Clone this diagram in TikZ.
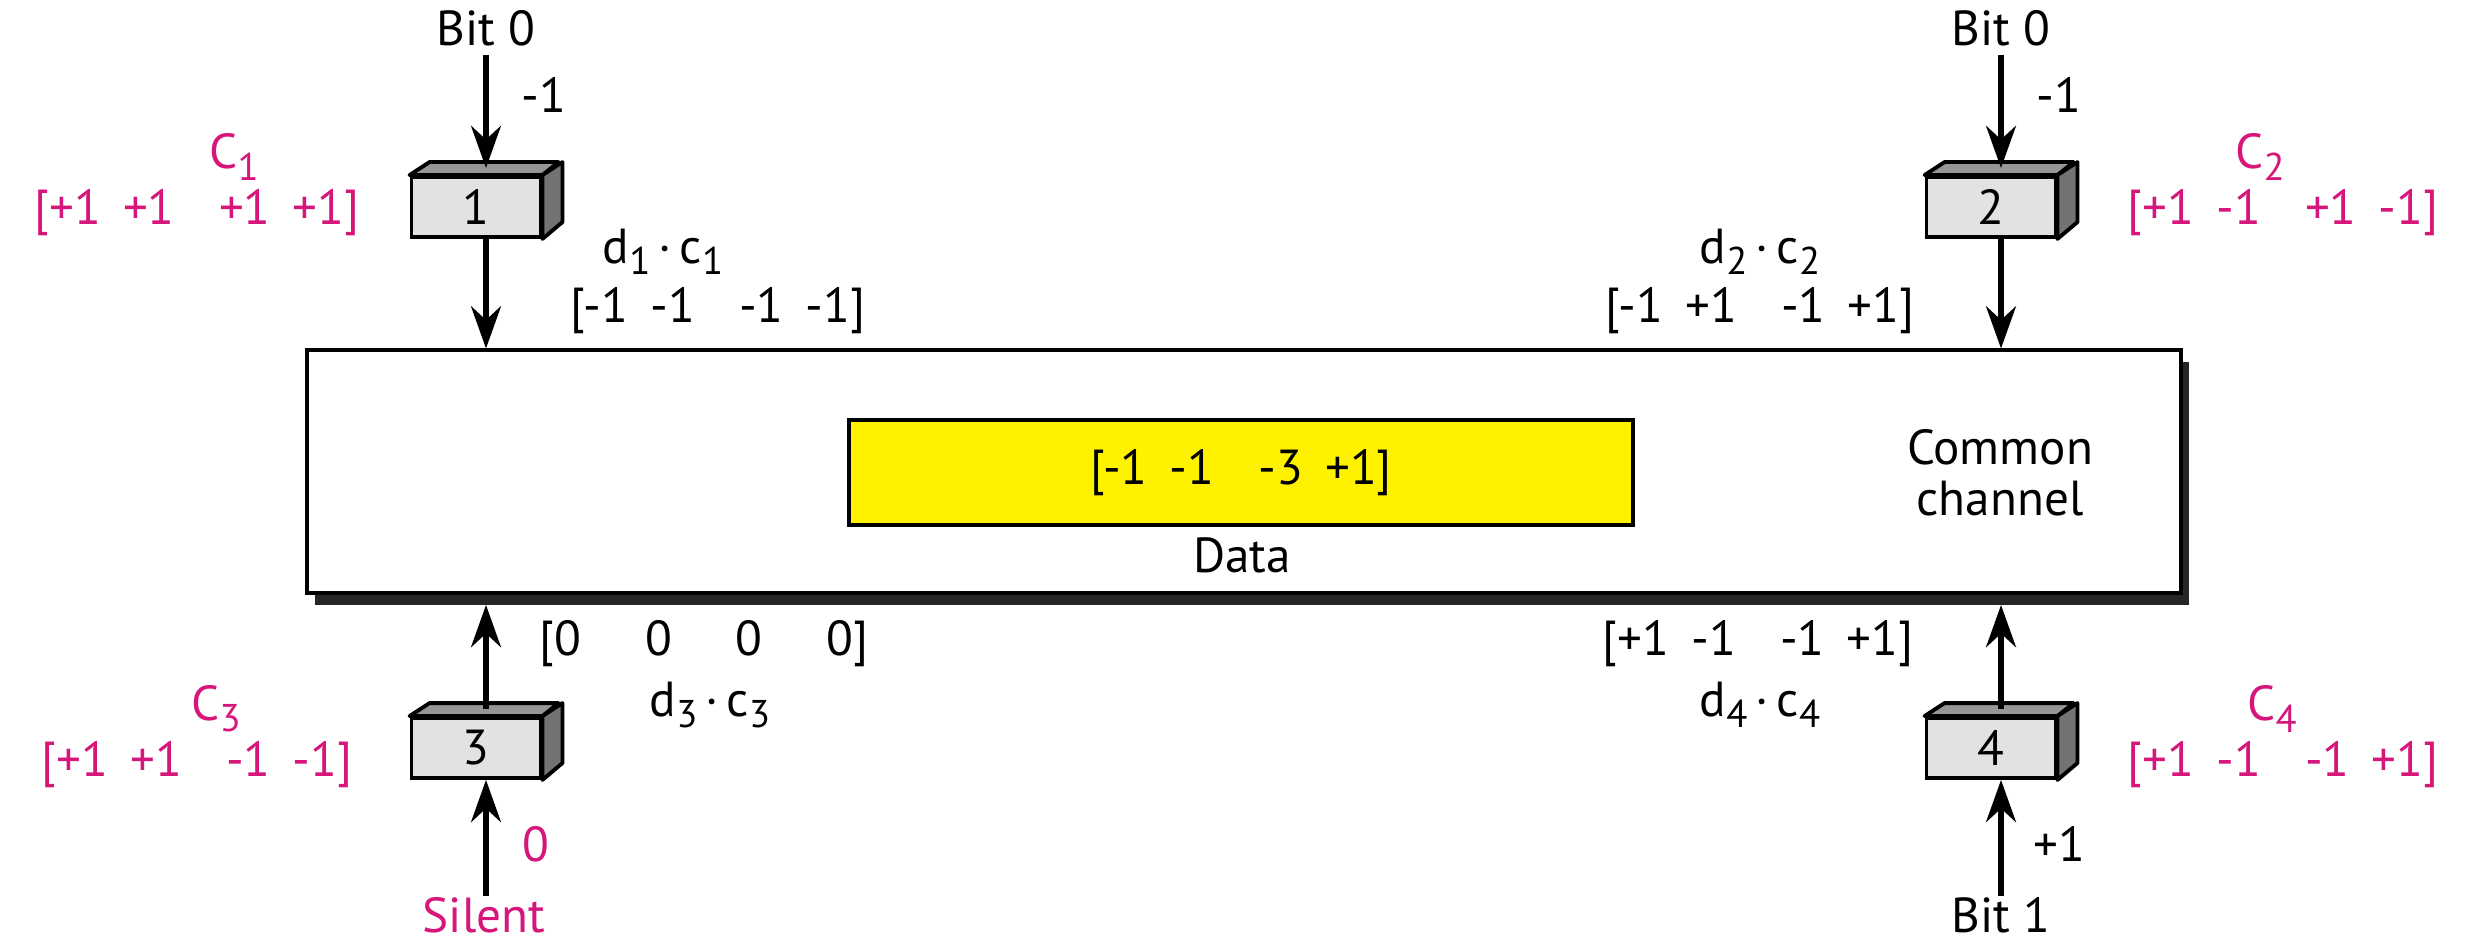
\documentclass[tikz,border=0pt]{standalone}
\usepackage{fontspec}
\setmainfont{PT Sans}
\usetikzlibrary{arrows.meta}
\definecolor{CodeMagenta}{RGB}{214,22,122}
\definecolor{FaceGray}{RGB}{226,226,226}
\definecolor{TopGray}{RGB}{150,150,150}
\definecolor{SideGray}{RGB}{115,115,115}
\newcommand{\lowsub}[1]{\raisebox{-0.45ex}{\fontsize{11}{11}\selectfont #1}}
\newcommand{\chips}[4]{[#1\hspace{0.45em}#2\hspace{0.9em}#3\hspace{0.45em}#4]}

\begin{document}
\begin{tikzpicture}[
        lbl/.style={font=\fontsize{14}{14.5}\selectfont, inner sep=0pt, align=center},
        code/.style={lbl, text=CodeMagenta},
        station/.style={draw, line width=1.1pt, fill=FaceGray, minimum width=1.29cm, minimum height=0.6cm, inner sep=0pt, font=\fontsize{14}{14.5}\selectfont},
        face/.style={draw, line width=1.1pt, line join=round},
        arr/.style={-{Stealth[length=12pt, width=8.5pt]}, line width=1.6pt}
    ]
        \useasboundingbox (0,0) rectangle (24.74,9.46);

        % common channel with its shadow
        \fill[black!85] (3.15,3.41) rectangle (21.89,5.84);
        \node[draw, line width=1pt, fill=white, minimum width=18.74cm, minimum height=2.43cm, anchor=south west, inner sep=0pt] (chan) at (3.05,3.51) {};
        \node[draw, line width=1pt, fill=yellow, minimum width=7.84cm, minimum height=1.05cm, inner sep=0pt, font=\fontsize{14}{14.5}\selectfont] (data) at (12.41,4.735) {\chips{-1}{-1}{-3}{+1}};
        \node[lbl] (datalbl) at (12.42,3.91) {Data};
        \node[lbl] (chanlbl) at (20.0,4.73) {Common\\channel};

        % stations
        \node[station] (s1) at (4.76,7.39) {1};
        \node[station] (s2) at (19.91,7.39) {2};
        \node[station] (s3) at (4.76,1.98) {3};
        \node[station] (s4) at (19.91,1.98) {4};

        \draw[face, fill=TopGray] (s1.north west) -- ++(0.2,0.13) -- ++(1.29,0) -- (s1.north east) -- cycle;
        \draw[face, fill=SideGray] (s1.north east) -- ++(0.2,0.13) -- ++(0,-0.6) -- (s1.south east) -- cycle;
        \draw[face, fill=TopGray] (s2.north west) -- ++(0.2,0.13) -- ++(1.29,0) -- (s2.north east) -- cycle;
        \draw[face, fill=SideGray] (s2.north east) -- ++(0.2,0.13) -- ++(0,-0.6) -- (s2.south east) -- cycle;
        \draw[face, fill=TopGray] (s3.north west) -- ++(0.2,0.13) -- ++(1.29,0) -- (s3.north east) -- cycle;
        \draw[face, fill=SideGray] (s3.north east) -- ++(0.2,0.13) -- ++(0,-0.6) -- (s3.south east) -- cycle;
        \draw[face, fill=TopGray] (s4.north west) -- ++(0.2,0.13) -- ++(1.29,0) -- (s4.north east) -- cycle;
        \draw[face, fill=SideGray] (s4.north east) -- ++(0.2,0.13) -- ++(0,-0.6) -- (s4.south east) -- cycle;

        % senders on top
        \node[lbl] (bit1) at (4.86,9.18) {Bit 0};
        \node[lbl] (bit2) at (20.01,9.18) {Bit 0};
        \coordinate (b1) at (4.86,8.91);
        \coordinate (b2) at (20.01,8.91);
        \draw[arr, shorten >=2pt] (b1) -- (b1 |- s1.north);
        \draw[arr, shorten >=2pt] (b2) -- (b2 |- s2.north);
        \draw[arr] (b1 |- s1.south) -- (b1 |- chan.north);
        \draw[arr] (b2 |- s2.south) -- (b2 |- chan.north);

        \node[lbl] (d1) at (5.44,8.51) {-1};
        \node[lbl] (d2) at (20.59,8.51) {-1};
        \node[code] (c1) at (2.34,7.89) {C\lowsub{1}};
        \node[code] (v1) at (1.97,7.33) {\chips{+1}{+1}{+1}{+1}};
        \node[code] (c2) at (22.60,7.89) {C\lowsub{2}};
        \node[code] (v2) at (22.83,7.33) {\chips{+1}{-1}{+1}{-1}};
        \node[lbl] (p1) at (6.63,6.94) {d\lowsub{1}\,·\,c\lowsub{1}};
        \node[lbl] (r1) at (7.18,6.35) {\chips{-1}{-1}{-1}{-1}};
        \node[lbl] (p2) at (17.60,6.94) {d\lowsub{2}\,·\,c\lowsub{2}};
        \node[lbl] (r2) at (17.60,6.35) {\chips{-1}{+1}{-1}{+1}};

        % senders below
        \coordinate (b3) at (4.86,0.50);
        \coordinate (b4) at (20.01,0.50);
        \draw[arr] (b3) -- (b3 |- s3.south);
        \draw[arr] (b4) -- (b4 |- s4.south);
        \draw[arr, shorten <=2pt, shorten >=0.1cm] (b3 |- s3.north) -- (b3 |- chan.south);
        \draw[arr, shorten <=2pt, shorten >=0.1cm] (b4 |- s4.north) -- (b4 |- chan.south);

        \node[code] (silent) at (4.84,0.31) {Silent};
        \node[lbl] (bit4) at (20.01,0.31) {Bit 1};
        \node[code] (d3) at (5.36,1.02) {0};
        \node[lbl] (d4) at (20.59,1.02) {+1};
        \node[code] (c3) at (2.16,2.37) {C\lowsub{3}};
        \node[code] (v3) at (1.97,1.81) {\chips{+1}{+1}{-1}{-1}};
        \node[code] (c4) at (22.72,2.37) {C\lowsub{4}};
        \node[code] (v4) at (22.83,1.81) {\chips{+1}{-1}{-1}{+1}};
        \node[lbl] (r3) at (7.04,3.02) {[0\hspace{1.3em}0\hspace{1.3em}0\hspace{1.3em}0]};
        \node[lbl] (p3) at (7.10,2.41) {d\lowsub{3}\,·\,c\lowsub{3}};
        \node[lbl] (r4) at (17.58,3.02) {\chips{+1}{-1}{-1}{+1}};
        \node[lbl] (p4) at (17.60,2.41) {d\lowsub{4}\,·\,c\lowsub{4}};
    \end{tikzpicture}
\end{document}
